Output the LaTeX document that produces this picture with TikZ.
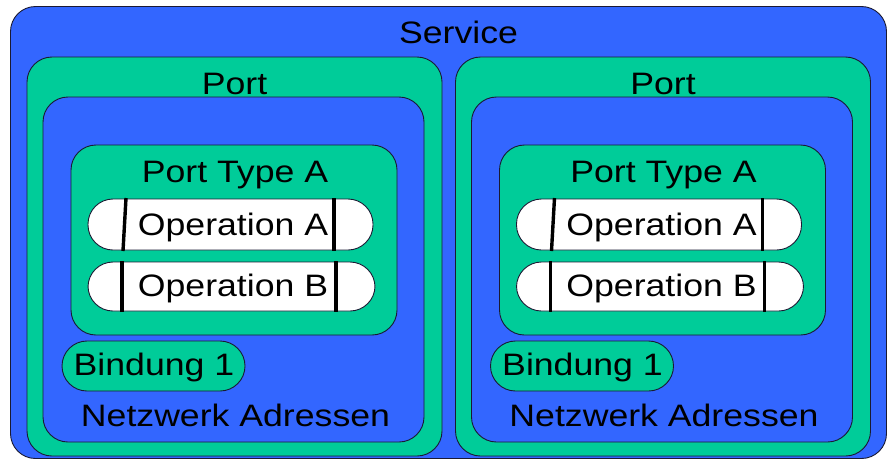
\documentclass[tikz,border=0pt]{standalone}
\usepackage{fontspec}
\usepackage{graphicx}
\setmainfont{Liberation Sans}
\usetikzlibrary{calc}
\definecolor{svcblue}{HTML}{3366FF}
\definecolor{portgreen}{HTML}{00CC99}
\definecolor{edge}{HTML}{1A1A33}
\newcommand{\lbl}[1]{\fontsize{31}{37}\selectfont\scalebox{1.15}[1]{#1}}
\tikzset{
  box/.style={draw=edge, line width=0.9pt, rounded corners=25pt, inner sep=0pt, outer sep=0pt},
  bluebox/.style={box, fill=svcblue},
  greenbox/.style={box, fill=portgreen},
  opbox/.style={box, fill=white},
  txt/.style={anchor=base, inner sep=0pt, text=black},
  opbar/.style={line width=3.4pt, draw=black}
}
\begin{document}
\begin{tikzpicture}[x=1pt,y=-1pt]
\useasboundingbox (0,0) rectangle (888,459);
\fill[white] (0,0) rectangle (888,459);

% service
\node[bluebox, minimum width=876pt, minimum height=452pt] (svc) at (448.5,232.5) {};
\node[txt] (svct) at (458.5,43) {\lbl{Service}};

% ports
\foreach \n/\dx in {L/0, R/428.5}{
  \node[greenbox, minimum width=415pt, minimum height=399pt] (port\n) at ({234.5+\dx},256.5) {};
  \node[txt] (portt\n) at ({234.5+\dx},94) {\lbl{Port}};
  \node[bluebox, minimum width=381pt, minimum height=345pt] (net\n) at ({233.5+\dx},269.5) {};
  \node[greenbox, minimum width=326pt, minimum height=190pt] (ptype\n) at ({234+\dx},240) {};
  \node[txt] (ptypet\n) at ({235+\dx},182) {\lbl{Port Type A}};
  \node[opbox, minimum width=285pt, minimum height=51pt] (opA\n) at ({230.5+\dx},224.5) {};
  \node[txt] (opAt\n) at ({233+\dx},235) {\lbl{Operation A}};
  \node[opbox, minimum width=287pt, minimum height=49pt] (opB\n) at ({231.5+\dx},286.5) {};
  \node[txt] (opBt\n) at ({233+\dx},296) {\lbl{Operation B}};
  \node[greenbox, minimum width=183pt, minimum height=50pt] (bind\n) at ({153.5+\dx},366) {};
  \node[txt] (bindt\n) at ({154+\dx},375) {\lbl{Bindung 1}};
  \node[txt] (nett\n) at ({235.5+\dx},426) {\lbl{Netzwerk Adressen}};
  % separator bars of the operations
  \draw[opbar] ($(opA\n.north west)+(38,-1)$) -- ($(opA\n.south west)+(35,1)$);
  \draw[opbar] ($(opA\n.north east)+(-39,-1)$) -- ($(opA\n.south east)+(-39,1)$);
  \draw[opbar] ($(opB\n.north west)+(34,-1)$) -- ($(opB\n.south west)+(34,1)$);
  \draw[opbar] ($(opB\n.north east)+(-39,-1)$) -- ($(opB\n.south east)+(-39,1)$);
}
\end{tikzpicture}
\end{document}
